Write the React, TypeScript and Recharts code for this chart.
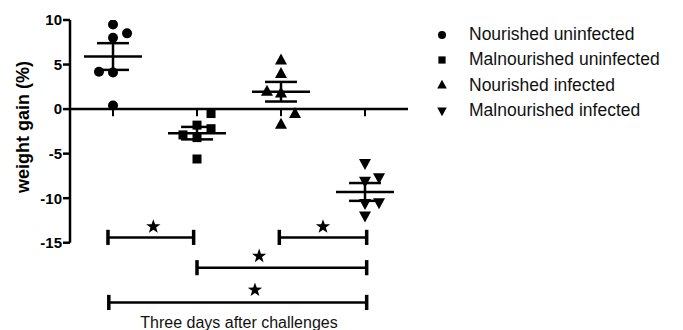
import { ScatterChart, Scatter, XAxis, YAxis, ReferenceLine } from 'recharts';

// groups, in x order
const groupNames = [
  'Nourished uninfected',
  'Malnourished uninfected',
  'Nourished infected',
  'Malnourished infected',
];

// weight gain (%) per animal
const nourishedUninfected = [9.5, 8.5, 8.0, 4.2, 4.1, 0.4];
const malnourishedUninfected = [-0.5, -1.8, -2.2, -2.9, -3.2, -5.6];
const nourishedInfected = [5.5, 4.0, 2.0, 1.8, -0.5, -1.7];
const malnourishedInfected = [-6.1, -7.7, -8.1, -10.5, -10.6, -12.0];

// horizontal scatter offset of each dot (-1 left, 0 centre, 1 right)
const jitterNU = [0, 1, 0, -1, 0, 0];
const jitterMU = [1, 0, 1, -1, 0, 0];
const jitterNI = [0, 0, -1, 0, 1, 0];
const jitterMI = [0, 1, 0, 1, 0, 0];

const groupMeans = [5.9, -2.7, 1.95, -9.3];
const groupSems = [1.5, 0.7, 1.1, 1.0];

const yTicks = [10, 5, 0, -5, -10, -15];

// significance brackets: from group, to group, level
const bracketFrom = [0.94, 2.98, 2.0, 0.95];
const bracketTo = [1.96, 4.02, 4.02, 4.02];
const bracketY = [-14.4, -14.4, -17.8, -21.7];
const starX = [1.48, 3.5, 2.74, 2.69];
const starY = [-13.2, -13.2, -16.5, -20.3];

const JITTER = 0.167;
const MEAN_HALF = 0.345;
const SEM_HALF = 0.19;
const CAP_HALF = 0.85;
const X_MIN = 0.488;
const X_MAX = 4.512;
const FONT = '"Liberation Sans", Arial, Helvetica, sans-serif';

const allValues = [nourishedUninfected, malnourishedUninfected, nourishedInfected, malnourishedInfected];
const allJitter = [jitterNU, jitterMU, jitterNI, jitterMI];

const toPoints = (g: number) =>
  allValues[g].map((v, i) => ({ x: g + 1 + allJitter[g][i] * JITTER, y: v }));

// eslint-disable-next-line @typescript-eslint/no-explicit-any
const Dot = ({ cx, cy, s = 1 }: any) => <circle cx={cx} cy={cy} r={5 * s} fill="#000" />;
// eslint-disable-next-line @typescript-eslint/no-explicit-any
const Sq = ({ cx, cy, s = 1 }: any) => (
  <rect x={cx - 4.5 * s} y={cy - 4.5 * s} width={9 * s} height={9 * s} fill="#000" />
);
// eslint-disable-next-line @typescript-eslint/no-explicit-any
const TriUp = ({ cx, cy, s = 1 }: any) => (
  <path d={`M${cx},${cy - 6.5 * s}L${cx + 6 * s},${cy + 4.5 * s}L${cx - 6 * s},${cy + 4.5 * s}Z`} fill="#000" />
);
// eslint-disable-next-line @typescript-eslint/no-explicit-any
const TriDown = ({ cx, cy, s = 1 }: any) => (
  <path d={`M${cx},${cy + 6.5 * s}L${cx + 6 * s},${cy - 4.5 * s}L${cx - 6 * s},${cy - 4.5 * s}Z`} fill="#000" />
);

const starPath = (cx: number, cy: number, ro: number, ri: number) => {
  let d = '';
  for (let i = 0; i < 10; i++) {
    const r = i % 2 === 0 ? ro : ri;
    const a = -Math.PI / 2 + (i * Math.PI) / 5;
    d += `${i === 0 ? 'M' : 'L'}${cx + r * Math.cos(a)},${cy + r * Math.sin(a)}`;
  }
  return d + 'Z';
};
// eslint-disable-next-line @typescript-eslint/no-explicit-any
const Star = ({ cx, cy }: any) => <path d={starPath(cx, cy, 7.5, 3)} fill="#000" />;

const shapes = [Dot, Sq, TriUp, TriDown];

const seg = (x1: number, y1: number, x2: number, y2: number, key: string, w = 2.5) => (
  <ReferenceLine
    key={key}
    segment={[{ x: x1, y: y1 }, { x: x2, y: y2 }]}
    stroke="#000"
    strokeWidth={w}
    ifOverflow="visible"
  />
);

const YLabel = () => (
  <text
    x={23}
    y={127}
    transform="rotate(-90 23 127)"
    textAnchor="middle"
    dominantBaseline="central"
    fontFamily={FONT}
    fontWeight="bold"
    fontSize={18}
    fill="#000"
  >
    weight gain (%)
  </text>
);

const LegendBox = () => (
  <div style={{ position: 'absolute', left: 435, top: 22, fontFamily: FONT, fontSize: 17.5, color: '#111' }}>
    {groupNames.map((name, i) => {
      const Shape = shapes[i];
      return (
        <div key={name} style={{ display: 'flex', alignItems: 'center', height: 25.3 }}>
          <svg width={14} height={14} style={{ marginRight: 20 }}>
            <Shape cx={7} cy={7} s={0.8} />
          </svg>
          <span>{name}</span>
        </div>
      );
    })}
  </div>
);

const starData = starX.map((x, i) => ({ x, y: starY[i] }));

export default function App() {
  return (
    <div style={{ position: 'absolute', left: 0, top: 0, width: 683, height: 330, background: '#fff' }}>
      <ScatterChart width={683} height={330} margin={{ top: 20, right: 275, bottom: 0, left: 0 }}>
        <XAxis
          type="number"
          dataKey="x"
          domain={[X_MIN, X_MAX]}
          allowDataOverflow
          tick={false}
          axisLine={false}
          tickLine={false}
          height={16}
          label={{
            value: 'Three days after challenges',
            position: 'center',
            fontFamily: FONT,
            fontSize: 16,
            fill: '#111',
          }}
        />
        <YAxis
          type="number"
          dataKey="y"
          domain={[-23, 10]}
          ticks={yTicks}
          allowDataOverflow
          width={70}
          axisLine={false}
          tickSize={7}
          tickMargin={1}
          tickLine={{ stroke: '#000', strokeWidth: 2.5 }}
          tick={{ fontFamily: FONT, fontSize: 15, fontWeight: 'bold', fill: '#000' }}
          label={{ content: () => <YLabel /> }}
        />

        {/* axes */}
        {seg(X_MIN, 10, X_MIN, -15, 'yaxis')}
        {seg(X_MIN, 0, X_MAX, 0, 'xaxis')}
        {groupNames.map((_, g) => seg(g + 1, 0, g + 1, -0.8, `xt${g}`, 2))}

        {/* mean and SEM */}
        {groupMeans.map((m, g) => seg(g + 1 - MEAN_HALF, m, g + 1 + MEAN_HALF, m, `mean${g}`))}
        {groupMeans.map((m, g) => seg(g + 1, m - groupSems[g], g + 1, m + groupSems[g], `semv${g}`))}
        {groupMeans.map((m, g) =>
          seg(g + 1 - SEM_HALF, m + groupSems[g], g + 1 + SEM_HALF, m + groupSems[g], `semu${g}`),
        )}
        {groupMeans.map((m, g) =>
          seg(g + 1 - SEM_HALF, m - groupSems[g], g + 1 + SEM_HALF, m - groupSems[g], `seml${g}`),
        )}

        {/* significance brackets */}
        {bracketY.map((y, i) => seg(bracketFrom[i], y, bracketTo[i], y, `br${i}`))}
        {bracketY.map((y, i) => seg(bracketFrom[i], y - CAP_HALF, bracketFrom[i], y + CAP_HALF, `bl${i}`, 3.5))}
        {bracketY.map((y, i) => seg(bracketTo[i], y - CAP_HALF, bracketTo[i], y + CAP_HALF, `bri${i}`, 3.5))}

        {groupNames.map((name, g) => (
          <Scatter key={name} name={name} data={toPoints(g)} shape={shapes[g]} isAnimationActive={false} />
        ))}
        <Scatter name="stars" data={starData} shape={Star} isAnimationActive={false} />
      </ScatterChart>
      <LegendBox />
    </div>
  );
}
